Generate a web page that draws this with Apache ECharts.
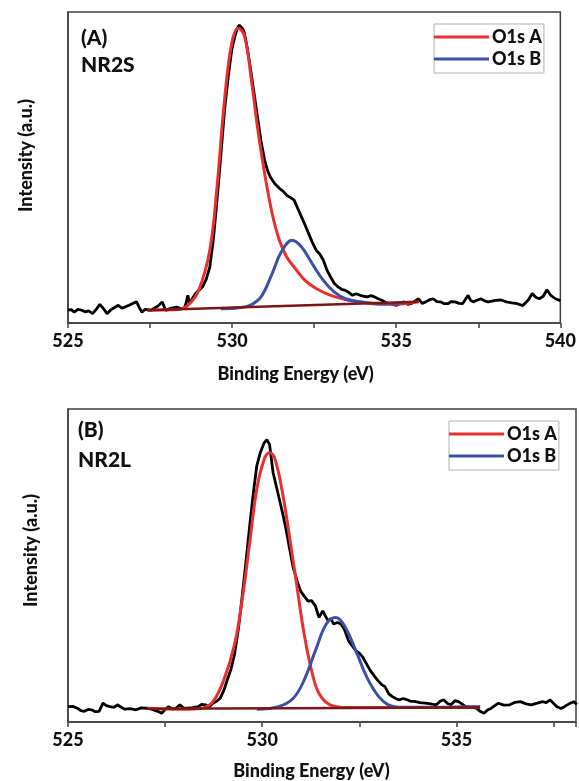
<!DOCTYPE html>
<html><head><meta charset="utf-8">
<script src="https://cdn.jsdelivr.net/npm/echarts@6/dist/echarts.min.js"></script>
<style>html,body{margin:0;padding:0;background:#fff}#c{width:579px;height:781px}</style>
</head><body><div id="c"></div>
<script>
// ---------- Panel A (NR2S) ----------
const aRawX = [525.00,525.10,525.19,525.30,525.42,525.52,525.63,525.75,525.86,525.97,526.08,526.19,526.30,526.42,526.53,526.64,526.75,526.86,526.97,527.09,527.17,527.25,527.35,527.42,527.53,527.64,527.75,527.87,527.98,528.09,528.20,528.31,528.42,528.54,528.60,528.65,528.70,528.76,528.88,528.98,529.10,529.21,529.32,529.43,529.54,529.65,529.77,529.88,529.99,530.08,530.16,530.22,530.27,530.33,530.38,530.46,530.55,530.66,530.77,530.88,530.99,531.08,531.16,531.30,531.44,531.55,531.66,531.77,531.89,532.00,532.11,532.22,532.33,532.44,532.56,532.67,532.78,532.89,533.00,533.12,533.23,533.34,533.45,533.56,533.67,533.78,533.90,534.01,534.12,534.23,534.34,534.45,534.56,534.68,534.79,534.90,535.01,535.12,535.23,535.35,535.46,535.57,535.68,535.79,535.90,536.02,536.13,536.24,536.35,536.46,536.57,536.68,536.80,536.91,537.02,537.10,537.19,537.27,537.35,537.46,537.58,537.69,537.80,537.91,538.02,538.19,538.36,538.52,538.69,538.86,539.03,539.14,539.25,539.36,539.48,539.59,539.70,539.85,540.00];
const aRawY = [4.1,4.3,3.5,4.4,4.1,3.6,3.9,3.0,4.4,6.0,4.6,3.0,4.2,5.0,5.7,4.8,5.2,5.7,6.3,6.8,5.0,3.5,4.4,4.3,4.1,4.8,5.5,6.8,4.0,4.6,4.9,5.1,4.7,4.6,6.5,8.9,6.5,7.3,9.4,10.5,11.6,14.0,18.0,27.0,39.5,53.0,68.5,79.0,87.9,92.0,94.8,95.8,95.4,94.5,93.0,88.5,82.5,74.5,66.4,58.5,52.4,49.0,47.0,44.8,43.3,42.4,41.1,40.4,39.5,36.8,34.2,31.6,28.8,26.0,23.4,22.2,20.2,17.0,14.8,12.6,11.6,10.8,10.5,9.8,8.9,9.4,8.9,8.6,8.4,8.8,8.4,7.8,7.3,6.6,6.2,6.0,5.7,6.3,6.8,6.0,6.2,7.0,7.8,6.3,6.8,7.5,7.8,6.9,6.8,6.2,6.2,6.9,6.8,6.3,6.2,7.5,8.9,7.2,6.8,7.3,7.8,7.1,6.8,7.0,7.3,7.4,6.8,6.5,6.2,5.6,7.5,9.5,8.3,7.8,8.6,10.7,9.0,7.8,7.2,6.8];

const aFitAX = [527.42,527.90,528.31,528.65,528.98,529.32,529.54,529.77,529.99,530.19,530.38,530.60,530.77,530.99,531.22,531.44,531.66,531.89,532.22,532.56,533.00,533.56,534.12,534.68,535.23,535.68];
const aFitAY = [4.1,4.2,4.3,5.7,10.5,23.4,43.8,71.8,90.0,94.8,92.2,77.1,63.2,48.1,35.2,26.6,21.3,18.0,13.7,11.1,8.9,7.3,6.4,6.0,6.2,6.8];

const aFitBX = [529.65,530.21,530.55,530.88,531.22,531.50,531.83,532.11,532.44,532.78,533.11,533.45,533.90,534.56,535.23];
const aFitBY = [4.6,4.9,5.7,8.4,15.9,22.9,26.6,24.5,19.1,13.7,10.0,7.8,6.8,6.2,6.4];

const aBaseX = [527.42,535.68];
const aBaseY = [4.1,6.8];

// ---------- Panel B (NR2L) ----------
const bRawX = [525.00,525.12,525.24,525.33,525.42,525.52,525.61,525.70,525.80,525.90,525.99,526.08,526.18,526.27,526.37,526.46,526.60,526.75,526.89,527.03,527.17,527.31,527.41,527.50,527.59,527.69,527.78,527.88,527.97,528.07,528.21,528.35,528.44,528.54,528.63,528.73,528.82,528.92,529.01,529.10,529.20,529.29,529.39,529.48,529.58,529.67,529.77,529.86,529.95,530.05,530.12,530.19,530.28,530.35,530.42,530.52,530.61,530.71,530.80,530.90,530.99,531.08,531.18,531.27,531.37,531.46,531.56,531.63,531.70,531.77,531.84,531.93,532.03,532.12,532.22,532.31,532.41,532.50,532.59,532.69,532.78,532.88,532.97,533.07,533.16,533.26,533.35,533.45,533.54,533.63,533.73,533.82,533.92,534.06,534.20,534.34,534.48,534.58,534.67,534.77,534.86,534.96,535.05,535.14,535.24,535.38,535.52,535.61,535.71,535.80,535.90,535.99,536.08,536.22,536.37,536.51,536.65,536.79,536.93,537.08,537.22,537.31,537.41,537.50,537.59,537.69,537.78,537.90,538.02,538.10];
const bRawY = [4.9,5.0,4.4,3.6,3.4,4.0,3.9,3.3,3.4,6.0,5.2,4.9,4.7,5.5,4.7,4.1,4.3,3.9,4.5,4.4,4.0,3.4,2.8,4.0,4.9,4.1,4.4,5.5,4.5,4.4,4.6,4.9,5.6,5.5,4.8,6.0,6.6,7.6,10.0,13.4,17.0,21.8,30.0,39.7,51.0,61.8,73.0,81.8,86.0,89.2,90.2,88.6,79.7,76.0,72.3,67.0,61.8,55.0,49.2,45.0,41.8,40.2,38.6,38.8,37.1,33.4,35.5,33.8,32.3,33.0,31.3,31.8,31.3,29.5,26.0,24.5,22.8,22.0,20.7,18.5,16.5,14.8,13.4,12.0,11.3,9.0,8.1,7.4,7.1,7.5,7.1,6.6,6.6,6.2,6.0,5.8,5.5,6.6,7.1,5.9,5.5,6.8,6.5,5.8,4.9,4.7,4.4,3.4,2.8,3.8,4.4,5.2,6.0,5.4,5.5,6.3,6.5,5.8,5.5,6.0,6.5,6.2,7.1,6.0,4.9,4.3,4.9,5.8,6.5,5.6];

const bFitAX = [527.03,527.97,528.44,528.73,529.01,529.29,529.48,529.67,529.86,530.05,530.19,530.33,530.52,530.71,530.90,531.08,531.27,531.46,531.75,532.22,533.63,535.61];
const bFitAY = [4.4,4.1,4.4,6.5,13.4,24.9,38.6,56.5,74.4,83.9,86.0,83.9,73.4,58.6,42.8,28.1,16.5,9.2,5.5,4.6,4.6,4.9];

const bFitBX = [529.86,530.42,530.80,531.08,531.37,531.65,531.89,532.12,532.41,532.69,532.97,533.25,533.63,535.61];
const bFitBY = [4.1,4.9,7.6,13.4,22.8,31.3,33.4,30.7,22.8,14.4,8.6,5.5,4.7,4.9];

const bBaseX = [527.03,535.61];
const bBaseY = [4.2,4.6];

const tickValues = [525,530,535,540];
const seriesNames = ['O1s A','O1s B'];
const panelLabels = [['(A)','NR2S'],['(B)','NR2L']];
const xTitle = 'Binding Energy (eV)';
const yTitle = 'Intensity (a.u.)';

function zip(xs, ys){ return xs.map((x,i)=>[x, ys[i]]); }

const FONT = 'Lato';
const W = 900;
const TXT = '#111';
const RED = '#e8312f', BLUE = '#3b50a6', BASE = '#7a1616';

function xAxisCfg(gi, max, gap, padR){
  return {
    type:'value', gridIndex:gi, min:525, max:max, interval:2.5,
    name:xTitle, nameLocation:'middle', nameGap:gap,
    nameTextStyle:{fontFamily:FONT,fontWeight:W,fontSize:18,color:TXT,padding:[0,padR,0,0]},
    axisLine:{show:true,lineStyle:{color:'#404040',width:1.5}},
    axisTick:{show:true,inside:false,length:5,lineStyle:{color:'#404040',width:1.5}},
    splitLine:{show:false},
    axisLabel:{fontFamily:FONT,fontWeight:W,fontSize:18,color:TXT,margin:9,
      formatter:v=> tickValues.indexOf(Math.round(v*1000)/1000)>=0 ? String(Math.round(v)) : ''}
  };
}
function yAxisCfg(gi, gap, padL){
  return {
    type:'value', gridIndex:gi, min:0, max:100,
    name:yTitle, nameLocation:'middle', nameGap:gap, nameRotate:90,
    nameTextStyle:{fontFamily:FONT,fontWeight:W,fontSize:18,color:TXT,padding:[0,0,0,padL]},
    axisLine:{show:true,lineStyle:{color:'#404040',width:1.5}},
    axisTick:{show:false}, axisLabel:{show:false}, splitLine:{show:false}
  };
}
function lineS(name, data, color, width, xi, smooth, z){
  return {type:'line', name:name, xAxisIndex:xi, yAxisIndex:xi, data:data, showSymbol:false,
    smooth:smooth, lineStyle:{color:color,width:width}, itemStyle:{color:color}, z:z, silent:true, animation:false};
}
function legendCfg(left, top){
  return {data:seriesNames.map(n=>({name:n,icon:'rect'})), orient:'vertical', left:left, top:top,
    itemWidth:55, itemHeight:3, itemGap:4, borderColor:'#b0b0b0', borderWidth:1,
    padding:[4,2,5,0], selectedMode:false,
    textStyle:{fontFamily:FONT,fontWeight:W,fontSize:18,color:TXT,padding:[0,0,0,-2]}};
}
function lbl(text, x, y){
  return {type:'text', left:x, top:y, style:{text:text, font:W+' 21px '+FONT, fill:TXT}};
}

const chart = echarts.init(document.getElementById('c'), null, {renderer:'canvas'});
const bMax = 525 + (579 + 2 - 68.3) / 39.2;
chart.setOption({
  animation:false,
  grid:[
    {left:68, right:15, top:12, height:311, show:true, borderColor:'#404040', borderWidth:1.5, containLabel:false},
    {left:68, right:-2, top:409, height:317, show:true, borderColor:'#404040', borderWidth:1.5, containLabel:false}
  ],
  xAxis:[xAxisCfg(0, 540, 42, 37), xAxisCfg(1, bMax, 40, 21)],
  yAxis:[yAxisCfg(0, 33, 24), yAxisCfg(1, 28, 30)],
  legend:[legendCfg(434, 24), legendCfg(449, 421)],
  graphic:[lbl(panelLabels[0][0],81,28), lbl(panelLabels[0][1],81,55), lbl(panelLabels[1][0],78,420), lbl(panelLabels[1][1],78,450)],
  series:[
    lineS('raw', zip(aRawX,aRawY), '#000', 2.8, 0, false, 2),
    lineS(seriesNames[0], zip(aFitAX,aFitAY), RED, 3, 0, 0.4, 3),
    lineS(seriesNames[1], zip(aFitBX,aFitBY), BLUE, 3, 0, 0.4, 3),
    lineS('base', zip(aBaseX,aBaseY), BASE, 2.5, 0, false, 4),
    lineS('raw', zip(bRawX,bRawY), '#000', 2.8, 1, false, 2),
    lineS(seriesNames[0], zip(bFitAX,bFitAY), RED, 3, 1, 0.4, 3),
    lineS(seriesNames[1], zip(bFitBX,bFitBY), BLUE, 3, 1, 0.4, 3),
    lineS('base', zip(bBaseX,bBaseY), BASE, 2.5, 1, false, 4)
  ]
});
</script></body></html>
